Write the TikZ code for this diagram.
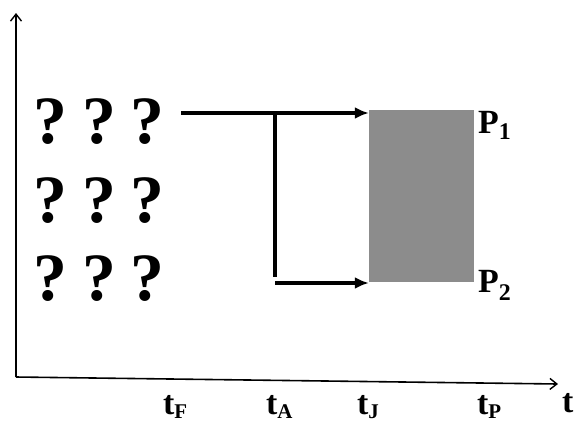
\documentclass[tikz,border=0pt]{standalone}
\usepackage{fontspec}
\setmainfont{Liberation Serif}
\usetikzlibrary{arrows.meta}
\definecolor{boxgray}{HTML}{8C8C8C}
\begin{document}
\begin{tikzpicture}[x=1bp,y=-1bp,
 axis/.style={line width=1.6bp,-{Straight Barb[length=7bp,width=11bp,line width=1.4bp]}},
 flow/.style={line width=3.5bp,-{Latex[length=14bp,width=12bp]}},
 link/.style={line width=3.5bp},
 qm/.style={anchor=base,inner sep=0,font=\bfseries\fontsize{68}{68}\selectfont},
 lbl/.style={anchor=base west,inner sep=0,font=\bfseries\fontsize{34}{34}\selectfont}]
\useasboundingbox (0,0) rectangle (580,425);
% axes
\coordinate (o) at (16,377);
\coordinate (ytop) at (16,13);
\coordinate (xend) at (558,384);
\draw[axis] (o) -- (ytop);
\draw[axis] (o) -- (xend);
% question marks
\foreach \r/\y in {1/143,2/222,3/300}
  \foreach \c/\x in {1/50,2/99,3/147}
    \node[qm] (q\r\c) at (\x,\y) {?};
% shaded box
\node[fill=boxgray,minimum width=105bp,minimum height=172bp,inner sep=0] (box) at (421.5,196) {};
% flow
\coordinate (s1) at (181,113);
\coordinate (j1) at (275,113);
\coordinate (j2) at (275,277);
\coordinate (s2) at (275,283);
\draw[flow] (s1) -- (s1 -| box.west);
\draw[link] (j1) -- (j2);
\draw[flow] (s2) -- (s2 -| box.west);
% labels
\node[lbl] (p1) at (478,133) {P\raisebox{-6bp}{\fontsize{24}{24}\selectfont 1}};
\node[lbl] (p2) at (478,292) {P\raisebox{-8bp}{\fontsize{24}{24}\selectfont 2}};
\node[lbl] (tF) at (163,414) {t\raisebox{-4bp}{\fontsize{21}{21}\selectfont F}};
\node[lbl] (tA) at (266,414) {t\raisebox{-4bp}{\fontsize{21}{21}\selectfont A}};
\node[lbl] (tJ) at (357,414) {t\raisebox{-4bp}{\fontsize{21}{21}\selectfont J}};
\node[lbl] (tP) at (477,414) {t\raisebox{-4bp}{\fontsize{21}{21}\selectfont P}};
\node[lbl] (t) at (562,412) {t};
\end{tikzpicture}
\end{document}
